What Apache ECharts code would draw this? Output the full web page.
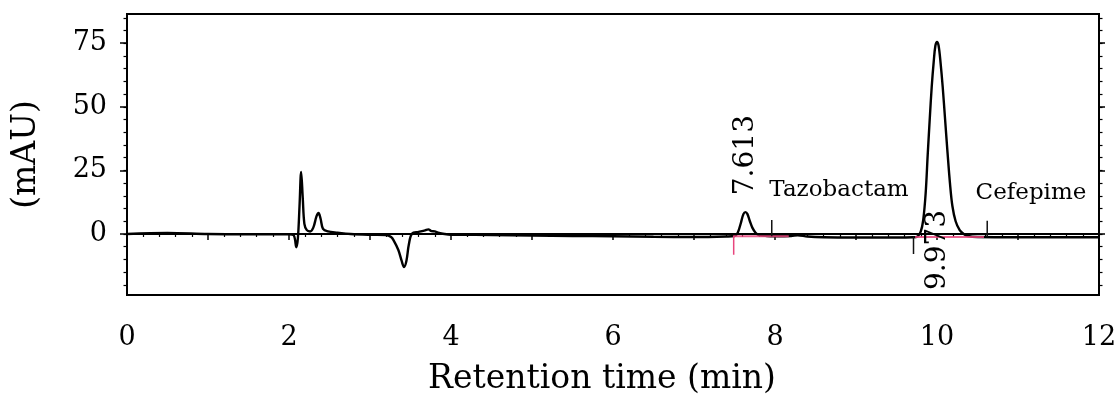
<!DOCTYPE html>
<html>
<head>
<meta charset="utf-8">
<script src="https://cdn.jsdelivr.net/npm/echarts@6/dist/echarts.min.js"></script>
<style>
  html, body { margin: 0; padding: 0; background: #fff; }
  #chart { width: 1120px; height: 410px; }
</style>
</head>
<body>
<div id="chart"></div>
<script>
// ---- data ----
const retentionTime = [
  0, 0.5, 1.0, 1.5, 2.0, 2.06, 2.09, 2.11, 2.13, 2.15, 2.17, 2.19, 2.22, 2.26, 2.30, 2.34, 2.365, 2.39, 2.42, 2.48, 2.6, 2.76,
  3.0, 3.2, 3.26, 3.29, 3.35, 3.39, 3.42, 3.45, 3.48, 3.52, 3.6, 3.68, 3.72, 3.76, 3.80, 3.84, 3.9, 4.0,
  4.5, 5.0, 5.5, 6.0, 6.5, 7.0, 7.4, 7.50, 7.54, 7.58, 7.61, 7.635, 7.66, 7.69, 7.72, 7.76, 7.80, 7.90, 8.0,
  8.2, 8.28, 8.4, 8.6, 9.0, 9.5, 9.70, 9.76, 9.80, 9.83, 9.86, 9.885, 9.91, 9.935, 9.96, 9.98, 10.00,
  10.02, 10.045, 10.07, 10.10, 10.13, 10.16, 10.19, 10.23, 10.28, 10.33, 10.38, 10.5, 11.0, 11.5, 12.0
];
const absorbance = [
  0, 0.4, 0, -0.1, -0.1, -0.6, -5.2, -1.5, 11, 24.4, 14, 4, 1.5, 1.0, 2.5, 7, 8.3, 6, 2.0, 1.0, 0.5, 0,
  -0.3, -0.4, -1.2, -2.4, -6.3, -10.5, -13.0, -10.5, -4, 0.2, 0.8, 1.4, 1.8, 1.1, 1.0, 0.5, 0.1, -0.3,
  -0.4, -0.6, -0.8, -0.9, -1.1, -1.2, -1.0, -0.8, 0.5, 4.5, 7.8, 8.6, 7.8, 5, 2.5, 0.5, -0.4, -0.8, -0.9,
  -0.8, -0.5, -1.0, -1.3, -1.4, -1.4, -1.3, -1.0, 1.0, 5.5, 16, 31, 45, 58, 68, 74, 75.5,
  74, 67, 58, 45, 32, 20, 11, 5, 1.5, 0, -0.8, -1.2, -1.3, -1.3, -1.3
];
// integration baselines [tStart, tEnd, level]
const integrationBaselines = [[7.49, 8.17, -0.9], [9.73, 10.58, -1.2]];
// peak start/end markers [t, yFrom, yTo]
const redMarkers = [[7.49, -0.6, -8.2]];
const blackMarkers = [[7.96, 5.5, -0.9], [9.71, -1.0, -7.9], [10.62, 5.2, -1.3]];
// retention time labels [t, y, text]
const rtLabels = [[7.635, 31, '7.613'], [10.01, -6.3, '9.973']];
// compound labels [t, y, text]
const compoundLabels = [[8.79, 17.2, 'Tazobactam'], [11.16, 16.0, 'Cefepime']];
const xTickLabels = [0, 2, 4, 6, 8, 10, 12];
const yTickLabels = [0, 25, 50, 75];
const yMinorTicks = [-20, -15, -10, -5, 0, 5, 10, 15, 20, 25, 30, 35, 40, 45, 50, 55, 60, 65, 70, 75, 80, 85];

const FONT = 'DejaVu Serif';
const yMin = -24, yMax = 86.5;

const series = [];
series.push({
  type: 'line', name: 'signal', xAxisIndex: 0, yAxisIndex: 0,
  data: retentionTime.map((t, i) => [t, absorbance[i]]),
  showSymbol: false, smooth: 0.35, lineStyle: { color: '#000', width: 2.4 }, z: 3, silent: true
});
integrationBaselines.forEach(b => series.push({
  type: 'line', data: [[b[0], b[2]], [b[1], b[2]]], showSymbol: false,
  lineStyle: { color: '#e8457d', width: 2, opacity: 0.85 }, z: 4, silent: true
}));
redMarkers.forEach(m => series.push({
  type: 'line', data: [[m[0], m[1]], [m[0], m[2]]], showSymbol: false,
  lineStyle: { color: '#e8457d', width: 1.5 }, z: 4, silent: true
}));
blackMarkers.forEach(m => series.push({
  type: 'line', data: [[m[0], m[1]], [m[0], m[2]]], showSymbol: false,
  lineStyle: { color: '#111', width: 1.5 }, z: 4, silent: true
}));
const labelCommon = { show: true, formatter: p => p.name, position: 'inside',
  align: 'center', verticalAlign: 'middle', fontFamily: FONT, color: '#000',
  opacity: 1, textBorderWidth: 0 };
series.push({
  type: 'scatter', symbolSize: 0, silent: true, z: 5, itemStyle: { opacity: 1 },
  data: rtLabels.map(l => ({ value: [l[0], l[1]], name: l[2] })),
  label: Object.assign({}, labelCommon, { rotate: 90, fontSize: 28 })
});
series.push({
  type: 'scatter', symbolSize: 0, silent: true, z: 5, itemStyle: { opacity: 1 },
  data: compoundLabels.map(l => ({ value: [l[0], l[1]], name: l[2] })),
  label: Object.assign({}, labelCommon, { fontSize: 23 })
});

const yBase = { type: 'value', min: yMin, max: yMax, splitLine: { show: false } };

const option = {
  animation: false,
  backgroundColor: '#fff',
  grid: { left: 127, right: 21, top: 14, bottom: 115, show: true, borderColor: '#000', borderWidth: 2 },
  xAxis: [{
    type: 'value', min: 0, max: 12, interval: 1,
    name: 'Retention time (min)', nameLocation: 'middle', nameGap: 68,
    nameTextStyle: { fontFamily: FONT, fontSize: 33, color: '#000', padding: [0, 22, 0, 0] },
    axisLine: { lineStyle: { color: '#000', width: 2 } },
    axisTick: { inside: false, length: 6, lineStyle: { color: '#000', width: 1.5 } },
    minorTick: { show: true, splitNumber: 5, length: 3, lineStyle: { color: '#000', width: 1.2 } },
    axisLabel: { customValues: xTickLabels, margin: 29, fontFamily: FONT, fontSize: 27, color: '#000' },
    splitLine: { show: false }
  }],
  yAxis: [
    Object.assign({}, yBase, {
      position: 'left',
      name: '(mAU)', nameLocation: 'middle', nameGap: 84, nameRotate: 90,
      nameTextStyle: { fontFamily: FONT, fontSize: 33, color: '#000' },
      axisLine: { show: true, lineStyle: { color: '#000', width: 2 } },
      axisTick: { show: true, customValues: yTickLabels, length: 7, lineStyle: { color: '#000', width: 1.5 } },
      axisLabel: { customValues: yTickLabels, margin: 20, fontFamily: FONT, fontSize: 27, color: '#000' }
    }),
    Object.assign({}, yBase, {
      position: 'left',
      axisLine: { show: false },
      axisTick: { show: true, customValues: yMinorTicks, length: 3.5, lineStyle: { color: '#000', width: 1.2 } },
      axisLabel: { show: false }
    }),
    Object.assign({}, yBase, {
      position: 'right',
      axisLine: { show: true, lineStyle: { color: '#000', width: 2 } },
      axisTick: { show: true, customValues: yTickLabels, length: 6, lineStyle: { color: '#000', width: 1.5 } },
      axisLabel: { show: false }
    }),
    Object.assign({}, yBase, {
      position: 'right',
      axisLine: { show: false },
      axisTick: { show: true, customValues: yMinorTicks, length: 3.5, lineStyle: { color: '#000', width: 1.2 } },
      axisLabel: { show: false }
    })
  ],
  series: series
};

const chart = echarts.init(document.getElementById('chart'), null, { renderer: 'canvas' });
chart.setOption(option);
</script>
</body>
</html>
